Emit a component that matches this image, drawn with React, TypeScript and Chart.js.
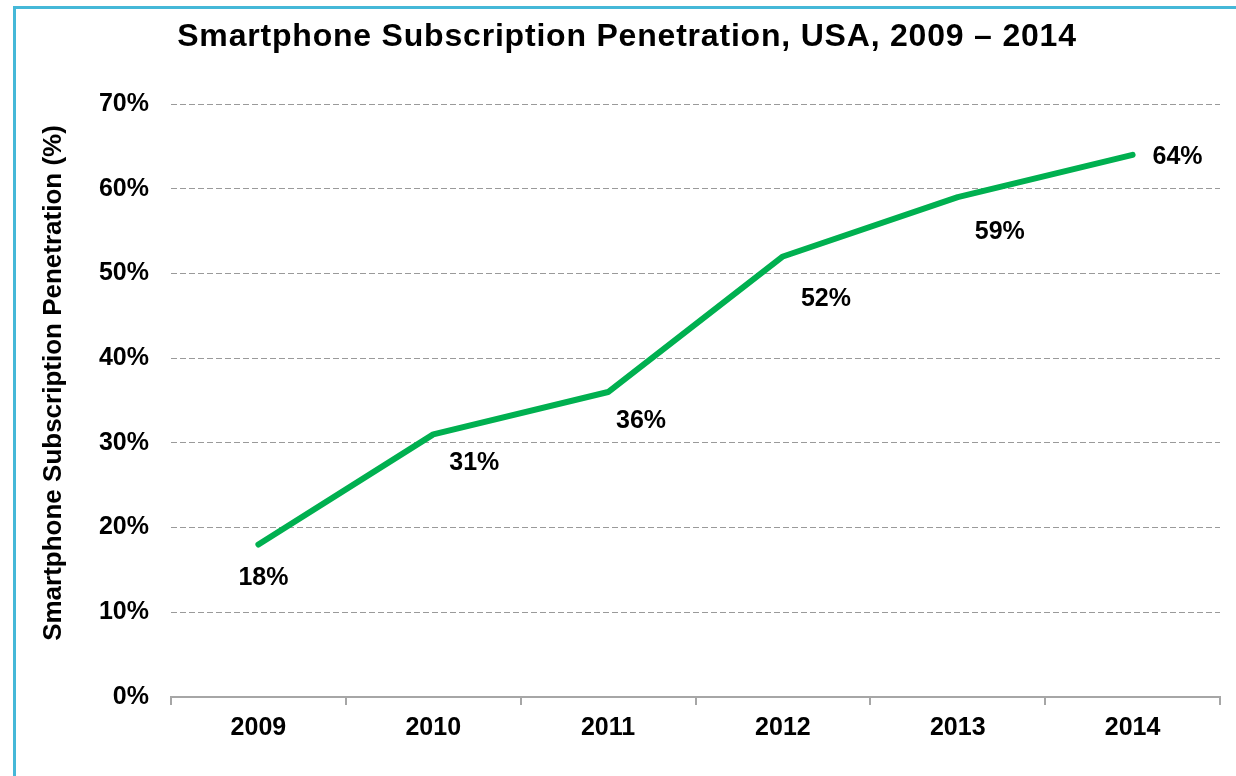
import React, { useEffect, useRef } from "react";
import { Chart, registerables } from "chart.js";

Chart.register(...registerables);

const categories = ["2009", "2010", "2011", "2012", "2013", "2014"];
const penetration = [18, 31, 36, 52, 59, 64];
const yTicks = [0, 10, 20, 30, 40, 50, 60, 70];
const titleText = "Smartphone Subscription Penetration, USA, 2009 \u2013 2014";
const yTitleText = "Smartphone Subscription Penetration (%)";

// label placement (style) relative to each point
const labelOffsets = [
  [5, 34],
  [41, 29],
  [33, 29],
  [43, 43],
  [42, 35],
  [45, 2],
];

const FONT = "'Liberation Sans', Arial, sans-serif";

export default function App() {
  const ref = useRef<HTMLCanvasElement | null>(null);

  useEffect(() => {
    const canvas = ref.current;
    if (!canvas) return;

    const textPlugin = {
      id: "textPlugin",
      afterDraw(chart: any) {
        const ctx = chart.ctx;
        ctx.save();
        ctx.fillStyle = "#000";
        ctx.textAlign = "center";
        ctx.textBaseline = "middle";
        // title
        ctx.font = `bold 32px ${FONT}`;
        try {
          ctx.letterSpacing = "0.8px";
        } catch (e) {}
        ctx.fillText(titleText, 627, 37);
        try {
          ctx.letterSpacing = "0px";
        } catch (e) {}
        // y title
        ctx.save();
        ctx.translate(54, 383);
        ctx.rotate(-Math.PI / 2);
        ctx.font = `bold 26px ${FONT}`;
        ctx.fillText(yTitleText, 0, 0);
        ctx.restore();
        // data labels
        const meta = chart.getDatasetMeta(0);
        ctx.font = `bold 25px ${FONT}`;
        meta.data.forEach((pt: any, i: number) => {
          const off = labelOffsets[i] || [0, 0];
          ctx.fillText(penetration[i] + "%", pt.x + off[0], pt.y + off[1]);
        });
        ctx.restore();
      },
    };

    const chart = new Chart(canvas, {
      type: "line",
      data: {
        labels: categories,
        datasets: [
          {
            data: penetration,
            borderColor: "#00b050",
            borderWidth: 6,
            pointRadius: 0,
            tension: 0,
            borderJoinStyle: "round",
            borderCapStyle: "round",
            fill: false,
          },
        ],
      },
      options: {
        responsive: false,
        animation: false,
        layout: { padding: { top: 104, right: 16, bottom: 0, left: 0 } },
        plugins: {
          legend: { display: false },
          title: { display: false },
          tooltip: { enabled: false },
        },
        scales: {
          x: {
            type: "category",
            offset: true,
            afterFit(scale: any) {
              scale.height = 79;
            },
            grid: {
              offset: true,
              drawOnChartArea: false,
              drawTicks: true,
              tickLength: 8,
              color: "#a6a6a6",
              lineWidth: 2,
            },
            border: { display: true, color: "#a6a6a6", width: 2 },
            ticks: {
              color: "#000",
              font: { family: FONT, size: 25, weight: "bold" },
              padding: 8,
              maxRotation: 0,
            },
          },
          y: {
            min: 0,
            max: 70,
            afterFit(scale: any) {
              scale.width = 171;
            },
            afterBuildTicks(scale: any) {
              scale.ticks = yTicks.map((v) => ({ value: v }));
            },
            grid: {
              drawTicks: false,
              color: (c: any) => (c.tick && c.tick.value === 0 ? "rgba(0,0,0,0)" : "#9a9a9a"),
              lineWidth: 1,
            },
            border: { display: false, dash: [6, 3] },
            ticks: {
              color: "#000",
              font: { family: FONT, size: 25, weight: "bold" },
              padding: 22,
              callback: (v: any) => v + "%",
            },
          },
        },
      } as any,
      plugins: [textPlugin],
    });

    return () => chart.destroy();
  }, []);

  return (
    <div
      style={{
        position: "fixed",
        left: 0,
        top: 0,
        width: 1236,
        height: 776,
        overflow: "hidden",
        background: "#fff",
      }}
    >
      <div
        style={{
          position: "absolute",
          left: 13,
          top: 6,
          width: 1400,
          height: 1000,
          border: "3px solid #45b8d8",
          boxSizing: "border-box",
        }}
      />
      <canvas
        ref={ref}
        width={1236}
        height={776}
        style={{ position: "absolute", left: 0, top: 0, width: 1236, height: 776 }}
      />
    </div>
  );
}
